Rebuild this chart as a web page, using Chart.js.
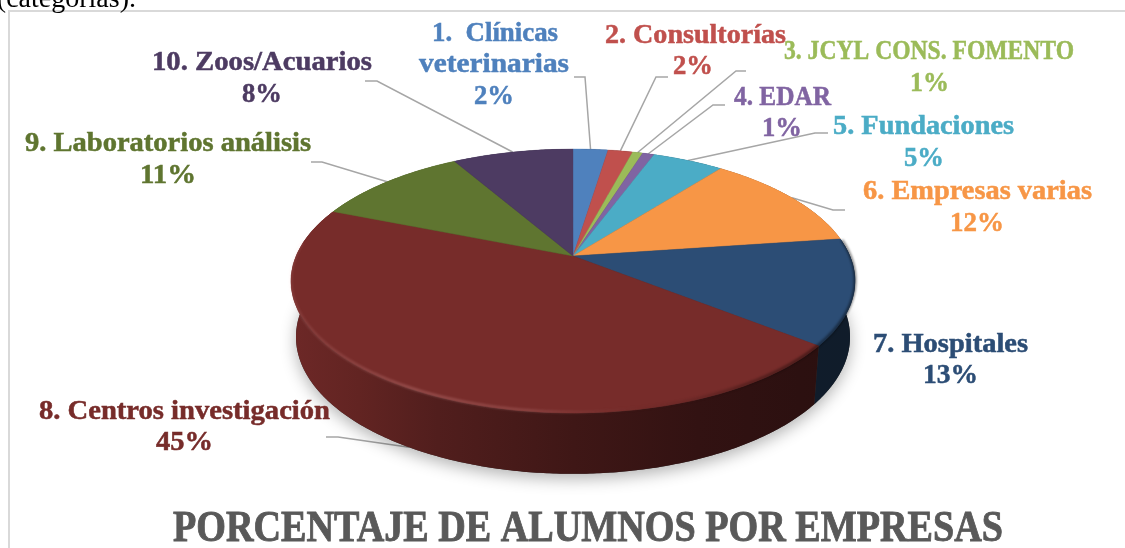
<!DOCTYPE html>
<html><head><meta charset="utf-8">
<style>html,body{margin:0;padding:0;background:#fff;overflow:hidden}canvas{display:block}</style>
<script src="https://cdn.jsdelivr.net/npm/chart.js@4"></script>
</head><body>
<canvas id="c" width="1125" height="548"></canvas>
<script>
const categories = ['1. Clínicas veterinarias','2. Consultorías','3. JCYL CONS. FOMENTO','4. EDAR','5. Fundaciones','6. Empresas varias','7. Hospitales','8. Centros investigación','9. Laboratorios análisis','10. Zoos/Acuarios'];
const values = [2.4,1.7,0.7,0.8,4.9,12.3,12.9,45.4,10.6,8.3];
const sliceColors = ['#4f81bd','#c0504d','#9bbb59','#8064a2','#4bacc6','#f79646','#2c4d75','#772c2a','#5f7530','#4d3b62'];
const chartTitle = 'PORCENTAJE DE ALUMNOS POR EMPRESAS';
const strayText = '(categorías).';

// ---- presentation only below ----
const FONT = '"Liberation Serif"';
const TOP = {a:277, b:127.3, p:-0.1894, cx:573, y0:256};
const BOT = {a:272, b:132,   p:-0.1894, cx:573, y0:311};
function project(m,u,v){const w=1+m.p*v;return [m.cx+m.a*u/w, m.y0+m.b*v/w];}
function rim(m,ang){return project(m,Math.cos(ang),Math.sin(ang));}

const labelLayout = [
 [['1.  Clínicas',432,41,126],['veterinarias',419,72,150],[null,474,104,40]],
 [['2. Consultorías',605,43,181],[null,673,74,40]],
 [['3. JCYL CONS. FOMENTO',784,59,290],[null,910,91,39]],
 [['4. EDAR',734,105,97],[null,762,136,40]],
 [['5. Fundaciones',833,134,181],[null,904,166,40]],
 [['6. Empresas varias',863,199,229],[null,950,231,54]],
 [['7. Hospitales',873,352,155],[null,923,383,55]],
 [['8. Centros investigación',39,419,291],[null,156,450,57]],
 [['9. Laboratorios análisis',25,151,286],[null,140,183,56]],
 [['10. Zoos/Acuarios',152,70,220],[null,242,102,40]]
];
const leaders = [
 [585,77,574,77,TOP],[656,77,668,77,TOP],[736,71,746,71,TOP],[713,105,725,105,TOP],[815,133,828,133,TOP],
 [833,210,845,210,TOP],null,[338,437,326,437,BOT],[322,162,311,162,TOP],[377,81,365,81,TOP]
];

function fitText(ctx,text,left,base,width,font,color,bold){
  ctx.save();ctx.font=font;ctx.fillStyle=color;ctx.textAlign='left';ctx.textBaseline='alphabetic';
  const w=ctx.measureText(text).width;
  ctx.translate(left,base);ctx.scale(width/w,1);ctx.fillText(text,0,0);
  ctx.lineWidth=bold;ctx.strokeStyle=color;ctx.strokeText(text,0,0);ctx.restore();
}
function shade(hex,f){const n=parseInt(hex.slice(1),16);
  return `rgb(${Math.round((n>>16&255)*f)},${Math.round((n>>8&255)*f)},${Math.round((n&255)*f)})`;}
function wallGradient(ctx,hex){
  const g=ctx.createLinearGradient(291,0,856,0);
  [[0,.92],[.12,.82],[.26,.68],[.5,.53],[.72,.42],[.9,.37],[1,.36]].forEach(s=>g.addColorStop(s[0],shade(hex,s[1])));
  return g;
}

const pie3d = {
  id:'pie3d',
  beforeDraw(chart){
    const ctx=chart.ctx;
    ctx.save();ctx.fillStyle='#fff';ctx.fillRect(0,0,1125,548);
    ctx.strokeStyle='#d9d9d9';ctx.lineWidth=2;
    ctx.beginPath();ctx.moveTo(9,548);ctx.lineTo(9,11);ctx.lineTo(1125,11);ctx.stroke();
    ctx.font='28px "Liberation Serif"';ctx.fillStyle='#000';ctx.textAlign='right';ctx.textBaseline='alphabetic';
    ctx.fillText(strayText,136,6.5);
    ctx.restore();
  },
  beforeDatasetDraw(chart){
    const ctx=chart.ctx, arcs=chart.getDatasetMeta(0).data;
    ctx.save();ctx.strokeStyle='#a6a6a6';ctx.lineWidth=1.5;
    arcs.forEach((el,i)=>{const L=leaders[i];if(!L)return;
      const s=rim(L[4],(el.startAngle+el.endAngle)/2);
      ctx.beginPath();ctx.moveTo(s[0],s[1]);ctx.lineTo(L[0],L[1]);ctx.lineTo(L[2],L[3]);ctx.stroke();});
    ctx.restore();
    ctx.save();ctx.shadowColor='rgba(0,0,0,.3)';ctx.shadowBlur=16;ctx.shadowOffsetY=5;ctx.fillStyle='#333';
    ctx.beginPath();for(let d=0;d<360;d+=2){const p=rim(BOT,d*Math.PI/180);d?ctx.lineTo(p[0],p[1]):ctx.moveTo(p[0],p[1]);}
    ctx.closePath();ctx.fill();ctx.restore();
    const order=arcs.map((el,i)=>i).sort((p,q)=>Math.sin((arcs[p].startAngle+arcs[p].endAngle)/2)-Math.sin((arcs[q].startAngle+arcs[q].endAngle)/2));
    order.forEach(i=>{const el=arcs[i];const n=Math.max(2,Math.ceil((el.endAngle-el.startAngle)/0.01));
      const g=wallGradient(ctx,sliceColors[i]);
      ctx.beginPath();
      for(let k=0;k<=n;k++){const p=rim(TOP,el.startAngle+(el.endAngle-el.startAngle)*k/n);k?ctx.lineTo(p[0],p[1]):ctx.moveTo(p[0],p[1]);}
      for(let k=n;k>=0;k--){const p=rim(BOT,el.startAngle+(el.endAngle-el.startAngle)*k/n);ctx.lineTo(p[0],p[1]);}
      ctx.closePath();ctx.fillStyle=g;ctx.fill();
    });
    const el0=arcs[0], R=el0.outerRadius, ox=el0.x, oy=el0.y;
    for(let Y=147;Y<416;Y++){
      const dY=Y+0.5-TOP.y0, v=dY/(TOP.b-TOP.p*dY), w=1+TOP.p*v;
      if(Math.abs(v)>1.02)continue;
      const sx=TOP.a/w/R, sy=TOP.b/(w*w)/R;
      ctx.save();
      ctx.beginPath();ctx.rect(0,Y,1125,1);ctx.clip();
      ctx.setTransform(sx,0,0,sy,TOP.cx-sx*ox,(Y+0.5)-sy*(oy+v*R));
      arcs.forEach(a=>a.draw(ctx));
      ctx.restore();
    }
    const g=ctx.createLinearGradient(291,0,856,0);
    g.addColorStop(0,'rgba(255,190,190,.1)');g.addColorStop(.22,'rgba(255,190,190,.22)');
    g.addColorStop(.42,'rgba(255,190,190,.16)');g.addColorStop(.62,'rgba(90,40,40,.08)');
    g.addColorStop(.8,'rgba(0,0,0,.25)');g.addColorStop(.92,'rgba(0,0,0,.4)');g.addColorStop(1,'rgba(0,0,0,.45)');
    ctx.save();ctx.filter='blur(1px)';ctx.strokeStyle=g;ctx.lineWidth=3;ctx.lineJoin='round';
    ctx.beginPath();
    const a0=-0.12, a1=Math.PI+0.1;
    for(let k=0;k<=300;k++){const p=rim(TOP,a0+(a1-a0)*k/300);k?ctx.lineTo(p[0],p[1]-1):ctx.moveTo(p[0],p[1]-1);}
    ctx.stroke();ctx.restore();
    return false;
  },
  afterDraw(chart){
    const ctx=chart.ctx;
    labelLayout.forEach((lines,i)=>lines.forEach(l=>{
      const isPct=l[0]===null;
      fitText(ctx,isPct?Math.round(values[i])+'%':l[0],l[1],l[2],l[3],(isPct?'bold 28px ':'bold 27px ')+FONT,sliceColors[i],0.5);
    }));
    fitText(ctx,chartTitle,173,541,830,'bold 45px '+FONT,'#595959',0.9);
  }
};

new Chart(document.getElementById('c'),{
  type:'pie',
  data:{labels:categories,datasets:[{data:values,backgroundColor:sliceColors,borderColor:sliceColors,borderWidth:0.6,borderAlign:'center'}]},
  options:{responsive:false,animation:false,events:[],layout:{padding:0},
    plugins:{legend:{display:false},tooltip:{enabled:false},title:{display:false}}},
  plugins:[pie3d]
});
</script>
</body></html>
